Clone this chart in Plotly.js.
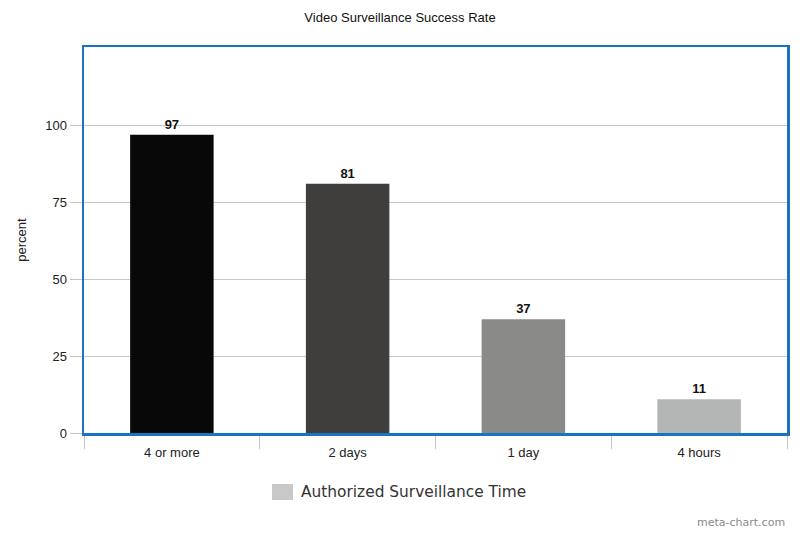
<!DOCTYPE html>
<html>
<head>
<meta charset="utf-8">
<script src="https://cdn.plot.ly/plotly-3.0.1.min.js"></script>
<style>html,body{margin:0;padding:0;background:#fff;}#chart{width:800px;height:533px;}</style>
</head>
<body>
<div id="chart"></div>
<script>
const categories = ["4 or more", "2 days", "1 day", "4 hours"];
const values = [97, 81, 37, 11];
const barColors = ["#080808", "#403e3c", "#8a8a88", "#b4b6b5"];
const yTicks = [0, 25, 50, 75, 100];
const seriesName = "Authorized Surveillance Time";

const trace = {
  type: "bar",
  x: categories,
  y: values,
  marker: {color: barColors, line: {width: 0}},
  text: values.map(String),
  textposition: "outside",
  texttemplate: "<b>%{text}</b>",
  textfont: {family: "Liberation Sans, Arial, sans-serif", size: 13, color: "#111"},
  cliponaxis: false,
  hoverinfo: "none",
  showlegend: false
};

const layout = {
  width: 800, height: 533,
  margin: {l: 84, r: 13, t: 47, b: 100},
  paper_bgcolor: "#fff", plot_bgcolor: "#fff",
  font: {family: "Liberation Sans, Arial, sans-serif", size: 13, color: "#222"},
  title: {text: "Video Surveillance Success Rate", x: 0.5, xanchor: "center", y: 0.968, yanchor: "middle",
          font: {family: "Liberation Sans, Arial, sans-serif", size: 13, color: "#111"}},
  bargap: 0.525,
  xaxis: {
    type: "category",
    showline: true, linecolor: "#1a72c4", linewidth: 2.5, mirror: true,
    ticks: "outside", tickson: "boundaries", ticklen: 13, tickcolor: "#c4c4c4", tickwidth: 1,
    ticklabelstandoff: 6,
    showgrid: false,
    tickfont: {size: 13, color: "#222"}
  },
  yaxis: {
    range: [0, 125.5],
    tickvals: yTicks,
    showline: true, linecolor: "#1a72c4", linewidth: 2.5, mirror: true,
    ticks: "outside", ticklen: 12, tickcolor: "#c4c4c4", tickwidth: 1,
    showgrid: true, gridcolor: "#c8c8c8", gridwidth: 1,
    zeroline: false,
    tickfont: {size: 13, color: "#222"},
    title: {text: "percent", font: {size: 13, color: "#222"}, standoff: 16}
  },
  shapes: [
    {type: "rect", xref: "paper", yref: "paper",
     x0: (272 - 84) / 703, x1: (293 - 84) / 703,
     y0: (433 - 500) / 386, y1: (433 - 484) / 386,
     fillcolor: "#c8c8c8", line: {width: 0}}
  ],
  annotations: [
    {xref: "paper", yref: "paper", x: (299 - 84) / 703, y: (433 - 492) / 386, xanchor: "left", yanchor: "middle",
     text: seriesName, showarrow: false,
     font: {family: "DejaVu Sans, Verdana, sans-serif", size: 15.4, color: "#333"}},
    {xref: "paper", yref: "paper", x: 1, y: (433 - 522) / 386, xanchor: "right", yanchor: "middle",
     text: "meta-chart.com", showarrow: false,
     font: {family: "DejaVu Sans, Verdana, sans-serif", size: 11, color: "#8a8a8a"}}
  ]
};

Plotly.newPlot("chart", [trace], layout, {displayModeBar: false, staticPlot: true});
</script>
</body>
</html>
